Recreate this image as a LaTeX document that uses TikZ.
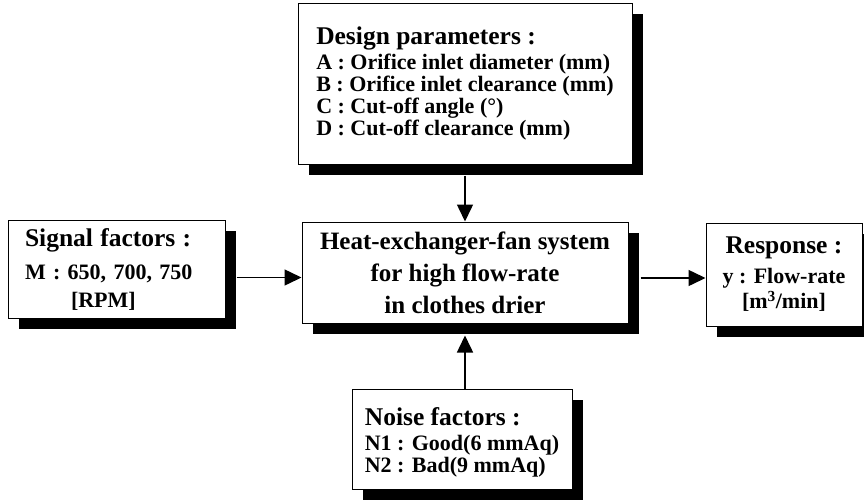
\documentclass[tikz,border=0pt]{standalone}
\usepackage{fontspec}
\setmainfont{Liberation Serif}
\usetikzlibrary{shadows,arrows.meta}

\begin{document}
\begin{tikzpicture}[x=1pt, y=-1pt, line width=1pt,
	box/.style={rectangle, draw, fill=white, inner sep=0pt,
		drop shadow={shadow xshift=11pt, shadow yshift=-11pt, fill=black, opacity=1}},
	flow/.style={-{Triangle[length=17pt, width=16pt]}, line width=1.5pt}]
	\useasboundingbox (0,0) rectangle (864,501);
	\node (design) at (465,83.5) [box, minimum width=334pt, minimum height=161pt, align=left, font=\fontsize{22}{22}\selectfont\bfseries]
		{{\fontsize{25.5}{25.5}\selectfont Design parameters :}\\[3pt]
		A : Orifice inlet diameter (mm)\\
		B : Orifice inlet clearance (mm)\\
		C : Cut-off angle (°)\\
		D : Cut-off clearance (mm)};
	\node (signal) at (116.5,269) [box, text width=183pt, inner xsep=17pt, minimum height=98pt, align=left, font=\fontsize{22}{28}\selectfont\bfseries]
		{{\fontsize{25.5}{25.5}\selectfont Signal factors :}\\[5pt]
		M : 650, 700, 750\\
		\hspace*{46pt}[RPM]};
	\node (center) at (465,272.5) [box, minimum width=326pt, minimum height=101pt, align=center, font=\fontsize{25}{32}\selectfont\bfseries]
		{Heat-exchanger-fan system\\
		for high flow-rate\\
		in clothes drier};
	\node (response) at (784,274.5) [box, minimum width=156pt, minimum height=103pt, align=center, font=\fontsize{22}{25}\selectfont\bfseries]
		{{\fontsize{25.5}{25.5}\selectfont Response :}\\[5pt]
		y : Flow-rate\\
		{[}m\textsuperscript{3}/min{]}};
	\node (noise) at (462,439) [box, minimum width=220pt, minimum height=100pt, align=left, font=\fontsize{22}{22}\selectfont\bfseries]
		{{\fontsize{25.5}{25.5}\selectfont\rule{0pt}{24pt}Noise factors :}\\[3pt]
		N1 : Good(6 mmAq)\\
		N2 : Bad(9 mmAq)};

	\coordinate (inL) at ([yshift=-5pt]center.west);
	\coordinate (outR) at ([yshift=-5.5pt]center.east);
	\draw[flow, shorten <=11pt] (inL -| signal.east) to (inL);
	\draw[flow, shorten <=12pt] (outR) to (outR -| response.west);
	\draw[flow, shorten <=11pt] (design.south) to (center.north);
	\draw[flow, shorten >=12pt] (center.south |- noise.north) to (center.south);
\end{tikzpicture}
\end{document}
